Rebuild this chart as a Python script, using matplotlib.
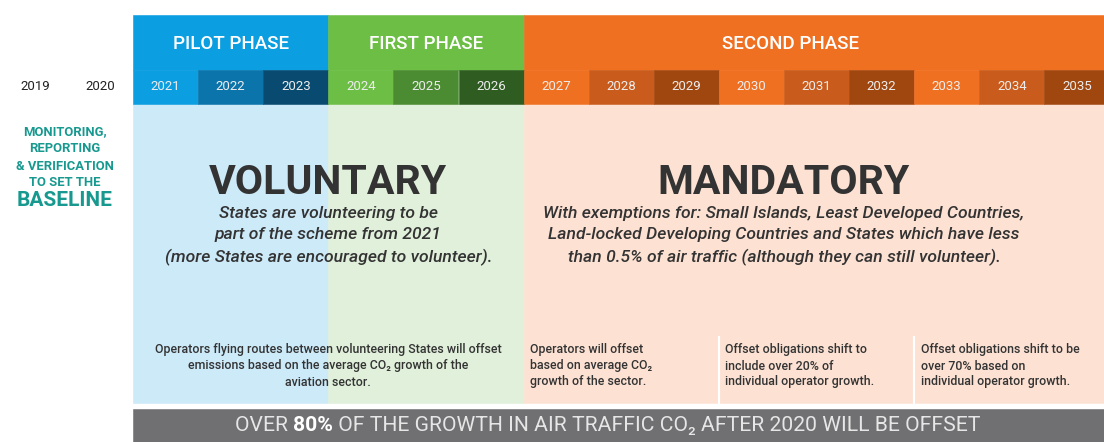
#!/usr/bin/env python3
"""CORSIA timeline infographic: pilot / first / second phase."""

import matplotlib

matplotlib.use("Agg")
import matplotlib.pyplot as plt

plt.rcParams.update({"font.family": ["Roboto", "DejaVu Sans"]})

# ── Data ──────────────────────────────────────────────────────────────────────
years = list(range(2019, 2036))
phase_names = ["PILOT PHASE", "FIRST PHASE", "SECOND PHASE"]
phase_start = [2021, 2024, 2027]
phase_end = [2023, 2026, 2035]
phase_label_x = [2022, 2025, 2030.6]
baseline_lines = ["MONITORING,", "REPORTING", "& VERIFICATION", "TO SET THE"]
baseline_word = "BASELINE"
regime_titles = ["VOLUNTARY", "MANDATORY"]
regime_notes = [
    "States are volunteering to be\npart of the scheme from 2021\n"
    "(more States are encouraged to volunteer).",
    "With exemptions for: Small Islands, Least Developed Countries,\n"
    "Land-locked Developing Countries and States which have less\n"
    "than 0.5% of air traffic (although they can still volunteer).",
]
offset_notes = [
    "Operators flying routes between volunteering States will offset\n"
    "emissions based on the average CO\u2082 growth of the\naviation sector.",
    "Operators will offset\nbased on average CO\u2082\ngrowth of the sector.",
    "Offset obligations shift to\ninclude over 20% of\nindividual operator growth.",
    "Offset obligations shift to be\nover 70% based on\nindividual operator growth.",
]
offset_from = [2021, 2027, 2030, 2033]
offset_to = [2026, 2029, 2032, 2035]
banner_parts = ["OVER ", "80%", " OF THE GROWTH IN AIR TRAFFIC CO\u2082 AFTER 2020 WILL BE OFFSET"]

# ── Colours ───────────────────────────────────────────────────────────────────
HEAD = ["#0B9EE0", "#6CBE45", "#F07022"]
SHADES = [
    ["#0B9EE0", "#0A74AB", "#084A70"],
    ["#6CBE45", "#4B8B32", "#2E5C21"],
    ["#F07022", "#C95B1C", "#A04710"],
]
LIGHT = ["#CDEAF9", "#E1F0DB", "#FDE2D4"]
TEAL = "#17998F"
DARK = "#333333"
GREY = "#707073"

# ── Layout (x in years, y in pixels from top) ────────────────────────────────
COL = 65.1
X0 = 2020.5 - 133 / COL
X1 = X0 + 1104 / COL

fig = plt.figure(figsize=(11.04, 4.42), dpi=100)
fig.patch.set_facecolor("white")
ax = fig.add_axes([0, 0, 1, 1])
ax.set_xlim(X0, X1)
ax.set_ylim(442, 0)
ax.axis("off")

# phase header bands
for i, name in enumerate(phase_names):
    s, e = phase_start[i], phase_end[i]
    ax.bar((s + e) / 2, 55, bottom=15, width=e - s + 1, color=HEAD[i],
           edgecolor=HEAD[i], linewidth=0.4)
    ax.text(phase_label_x[i], 44, name, ha="center", va="center",
            fontsize=13.5, fontweight="medium", color="white")
    # light background below
    ax.bar((s + e) / 2, 299, bottom=104, width=e - s + 1, color=LIGHT[i],
           edgecolor=LIGHT[i], linewidth=0.4)

# year row
for y in years:
    if y < phase_start[0]:
        ax.text(y, 87, str(y), ha="center", va="center", fontsize=9.5, color="#222222")
        continue
    p = next(i for i in range(3) if phase_start[i] <= y <= phase_end[i])
    k = (y - phase_start[p]) % 3
    ax.bar(y, 34, bottom=70, width=1, color=SHADES[p][k],
           edgecolor=SHADES[p][k], linewidth=0.4)
    ax.text(y, 87, str(y), ha="center", va="center", fontsize=9.5, color="#EDEDED")

# left baseline note
cx = 2019.455
for j, line in enumerate(baseline_lines):
    ax.text(cx, 132 + j * 17, line, ha="center", va="center",
            fontsize=9.4, fontweight="bold", color=TEAL)
ax.text(cx, 201, baseline_word, ha="center", va="center",
        fontsize=15, fontweight="bold", color=TEAL)

# regime titles and notes
regime_x = [2023.5, 2030.5]
for i in range(2):
    ax.text(regime_x[i], 183, regime_titles[i], ha="center", va="center",
            fontsize=29.5, fontweight="bold", color=DARK)
    ax.text(regime_x[i], 236, regime_notes[i], ha="center", va="center",
            fontsize=12.6, style="italic", fontweight="medium", color=DARK,
            linespacing=1.48)

# offset notes
for i, note in enumerate(offset_notes):
    if i == 0:
        ax.text((offset_from[i] + offset_to[i]) / 2, 366, note,
                ha="center", va="center", fontsize=8.9, fontweight="medium",
                color=DARK, linespacing=1.3)
    else:
        ax.text(offset_from[i] - 0.5 + 0.1, 366, note, ha="left", va="center",
                fontsize=8.9, fontweight="medium", color=DARK, linespacing=1.3)
for i in (2, 3):
    ax.plot([offset_from[i] - 0.5] * 2, [337, 403], color="white", linewidth=1.5)

# bottom banner
ax.bar((2020.5 + X1) / 2, 33, bottom=409, width=X1 - 2020.5, color=GREY,
       edgecolor=GREY, linewidth=0.4)
t1 = ax.text(2022.1, 426, banner_parts[0], ha="left", va="center",
             fontsize=15.2, fontweight="normal", color="#E6E6E6")
t2 = ax.annotate(banner_parts[1], xy=(1, 0.5), xycoords=t1, ha="left", va="center",
                 fontsize=15.2, fontweight="bold", color="#FFFFFF")
t3 = ax.annotate(banner_parts[2], xy=(1, 0.5), xycoords=t2, ha="left", va="center",
                 fontsize=15.2, fontweight="normal", color="#E6E6E6")

fig.canvas.draw()
r = fig.canvas.get_renderer()
left = t1.get_window_extent(r).x0
right = t3.get_window_extent(r).x1
target = ax.transData.transform((X0 + 607.5 / COL, 0))[0]
shift = target - (left + right) / 2
px = ax.transData.transform((2022.1, 426))
t1.set_position(ax.transData.inverted().transform((px[0] + shift, px[1])))

fig.savefig("out.png", dpi=100, facecolor="white")
plt.close(fig)
